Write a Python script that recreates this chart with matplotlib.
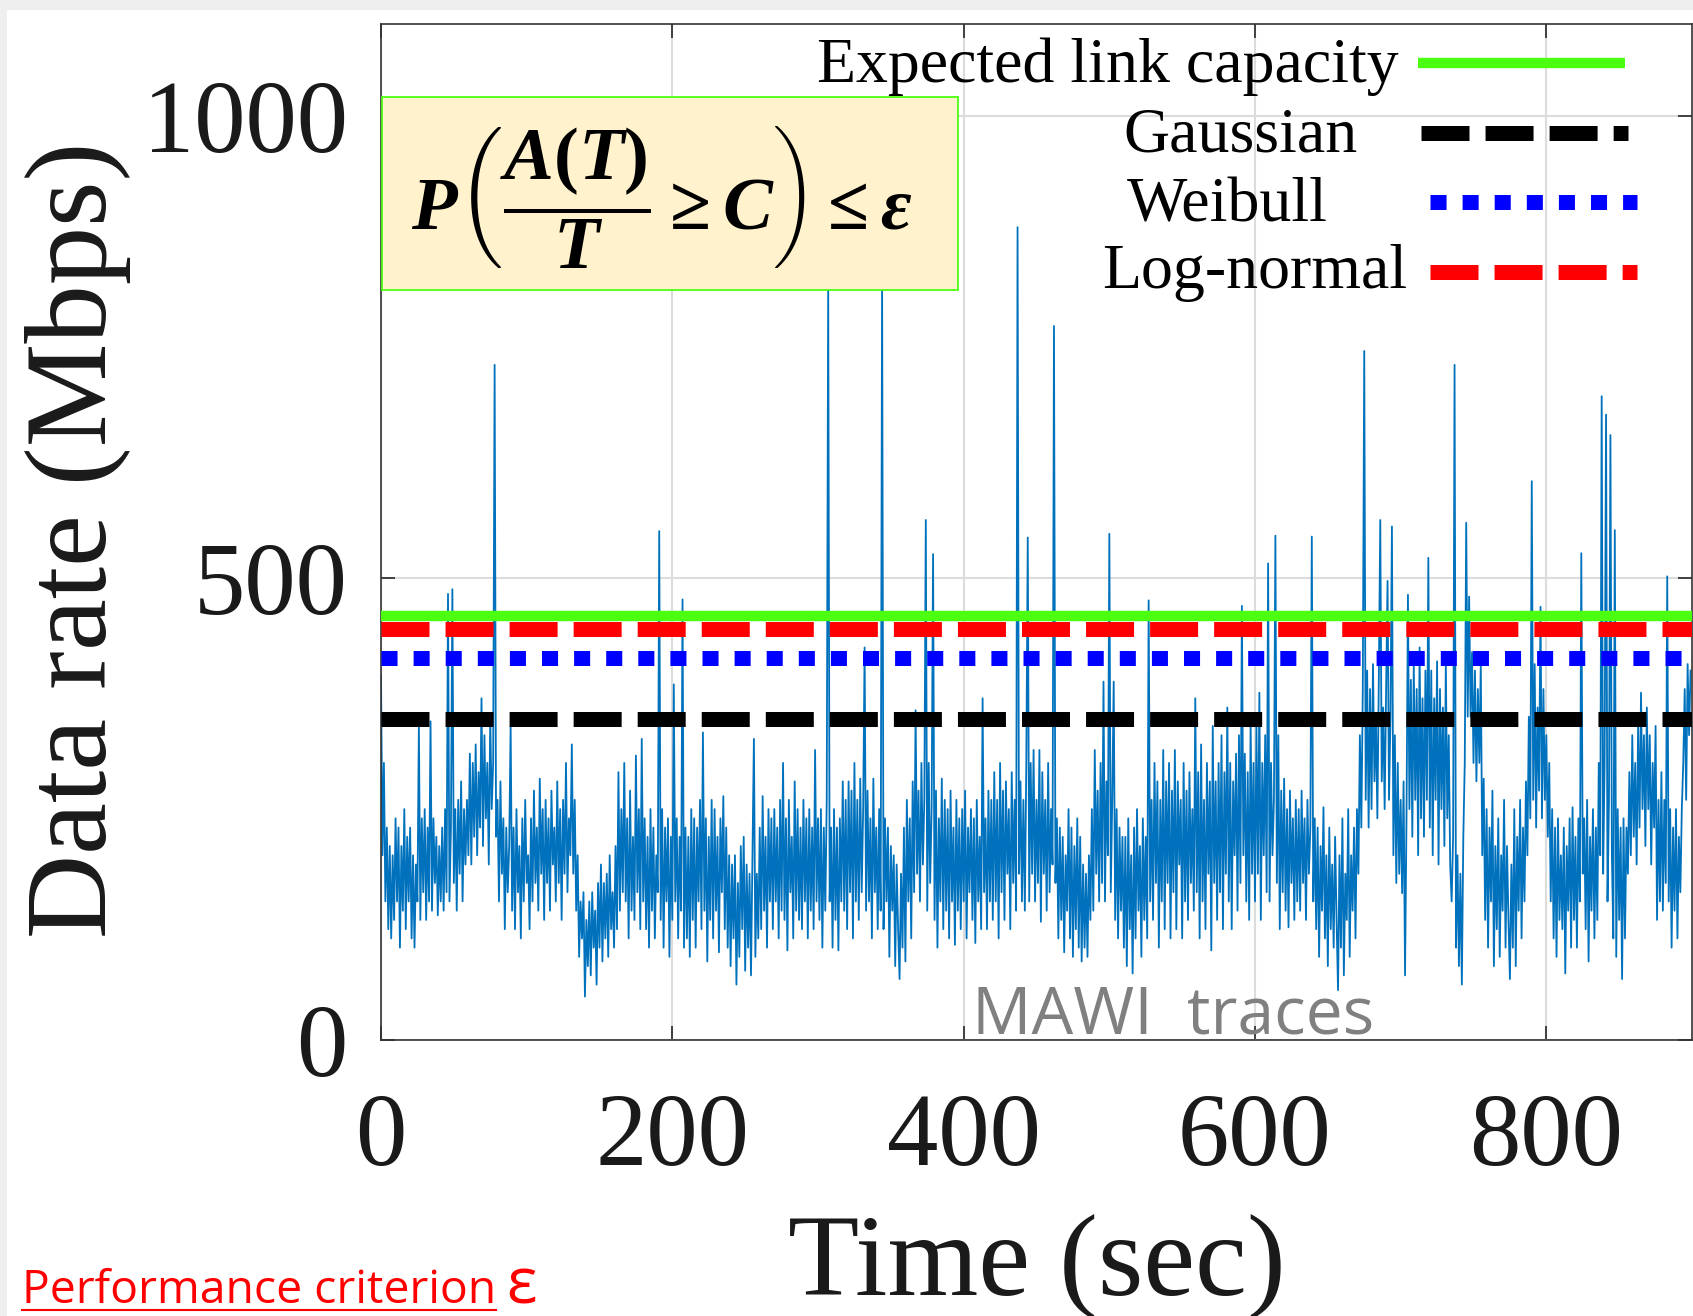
import numpy as np
import matplotlib
matplotlib.use('Agg')
import matplotlib.pyplot as plt
from matplotlib.patches import Rectangle
from matplotlib.lines import Line2D

# ---------------- data ----------------
# one value per second, t = 0 ... 899 (each row = 30 s)
data_rate_mbps = [
    395, 200, 300, 150, 230, 120, 210, 110, 200, 130, 240, 150, 230, 100, 210, 140, 250, 120, 220, 150, 230, 110, 200, 100, 190, 150, 340, 130, 240, 160,
    250, 130, 230, 150, 345, 140, 240, 170, 220, 135, 210, 150, 230, 140, 250, 160, 483, 150, 230, 488, 170, 250, 140, 260, 180, 280, 150, 250, 190, 260,
    200, 310, 190, 300, 220, 320, 200, 290, 230, 370, 210, 330, 240, 300, 190, 350, 250, 300, 731, 220, 260, 150, 280, 180, 240, 120, 230, 160, 210, 340,
    140, 230, 120, 250, 160, 210, 110, 240, 150, 260, 170, 200, 120, 240, 150, 270, 170, 230, 140, 283, 180, 250, 130, 260, 170, 240, 140, 270, 190, 230,
    150, 280, 170, 250, 130, 260, 180, 300, 160, 240, 200, 320, 180, 260, 140, 200, 90, 150, 110, 160, 47, 130, 80, 150, 70, 160, 100, 140, 60, 170,
    100, 190, 85, 170, 110, 180, 90, 200, 120, 160, 100, 210, 120, 290, 140, 250, 160, 300, 150, 240, 110, 270, 140, 220, 130, 308, 160, 250, 120, 326,
    150, 240, 120, 220, 100, 250, 140, 230, 110, 200, 160, 551, 130, 250, 100, 230, 150, 240, 90, 220, 130, 385, 150, 240, 110, 220, 140, 477, 100, 230,
    110, 220, 90, 250, 130, 240, 100, 230, 150, 260, 120, 333, 140, 240, 85, 220, 130, 260, 110, 250, 140, 220, 95, 240, 160, 264, 120, 230, 100, 200,
    80, 190, 110, 200, 60, 170, 90, 210, 120, 220, 75, 190, 100, 180, 70, 200, 326, 90, 180, 110, 230, 120, 264, 140, 220, 100, 250, 150, 240, 120,
    250, 150, 230, 110, 260, 140, 300, 130, 240, 97, 260, 160, 220, 110, 280, 140, 250, 130, 230, 120, 260, 150, 240, 110, 250, 140, 230, 120, 314, 150,
    240, 130, 250, 100, 230, 140, 260, 820, 150, 230, 100, 250, 130, 230, 97, 240, 150, 280, 140, 260, 120, 280, 160, 270, 110, 300, 150, 260, 130, 283,
    160, 250, 425, 140, 270, 150, 240, 110, 283, 160, 230, 120, 250, 140, 825, 120, 240, 150, 230, 90, 210, 140, 200, 80, 190, 120, 66, 180, 100, 230,
    85, 260, 150, 240, 110, 280, 160, 357, 180, 270, 150, 300, 190, 260, 563, 140, 300, 170, 250, 526, 130, 270, 100, 240, 150, 283, 120, 260, 140, 250,
    110, 270, 150, 230, 103, 260, 140, 240, 120, 250, 150, 270, 110, 230, 160, 250, 130, 240, 105, 260, 150, 220, 120, 370, 160, 240, 120, 270, 150, 260,
    130, 290, 150, 260, 110, 300, 160, 270, 130, 280, 180, 250, 120, 290, 170, 260, 140, 880, 180, 280, 150, 260, 140, 300, 544, 150, 300, 180, 314, 150,
    260, 170, 314, 128, 290, 180, 260, 140, 300, 160, 250, 190, 773, 170, 240, 110, 230, 130, 220, 95, 200, 140, 250, 110, 230, 90, 210, 120, 240, 100,
    220, 85, 190, 100, 180, 90, 200, 130, 250, 140, 314, 180, 270, 150, 300, 170, 388, 150, 280, 200, 548, 160, 260, 388, 130, 250, 110, 230, 140, 220,
    100, 220, 80, 240, 120, 200, 72, 230, 110, 250, 140, 210, 90, 240, 130, 220, 110, 476, 150, 260, 130, 300, 170, 280, 100, 260, 150, 314, 120, 280,
    170, 300, 110, 270, 160, 314, 120, 280, 190, 260, 110, 300, 150, 270, 130, 290, 170, 250, 140, 370, 160, 290, 110, 320, 150, 260, 120, 300, 180, 280,
    97, 340, 170, 280, 130, 300, 160, 330, 120, 290, 180, 360, 150, 300, 120, 280, 200, 310, 140, 330, 170, 470, 200, 310, 150, 290, 130, 345, 180, 300,
    150, 340, 180, 376, 130, 300, 200, 330, 160, 516, 150, 300, 200, 260, 546, 170, 330, 120, 270, 160, 283, 140, 250, 122, 270, 170, 240, 130, 260, 150,
    250, 140, 270, 170, 240, 130, 260, 180, 230, 545, 150, 240, 120, 230, 90, 210, 140, 252, 110, 200, 80, 230, 120, 190, 100, 220, 130, 54, 200, 100,
    240, 70, 180, 130, 250, 90, 200, 140, 230, 110, 250, 180, 330, 230, 380, 746, 260, 400, 230, 380, 250, 407, 280, 350, 240, 390, 563, 280, 360, 250,
    380, 497, 260, 350, 556, 200, 330, 170, 300, 180, 260, 159, 280, 70, 240, 482, 250, 390, 220, 407, 260, 380, 200, 425, 240, 370, 220, 400, 260, 522,
    230, 400, 200, 370, 260, 410, 190, 380, 250, 360, 210, 410, 240, 330, 190, 150, 220, 731, 100, 200, 80, 180, 60, 220, 300, 560, 350, 480, 350, 420,
    300, 400, 280, 380, 300, 407, 200, 283, 130, 250, 100, 230, 150, 270, 80, 210, 120, 240, 90, 200, 140, 260, 100, 210, 130, 66, 190, 100, 250, 80,
    220, 140, 260, 110, 230, 150, 280, 200, 350, 240, 605, 260, 407, 230, 360, 270, 469, 240, 380, 260, 330, 220, 300, 150, 250, 110, 230, 90, 240, 130,
    200, 120, 230, 72, 210, 140, 240, 100, 252, 130, 220, 100, 240, 150, 527, 180, 240, 120, 260, 85, 220, 140, 250, 110, 230, 130, 300, 200, 697, 180,
    300, 677, 150, 260, 655, 200, 110, 552, 90, 250, 130, 230, 66, 240, 110, 230, 180, 290, 200, 330, 220, 300, 190, 340, 230, 376, 250, 330, 210, 360,
    250, 330, 190, 300, 230, 340, 130, 260, 150, 290, 140, 260, 170, 502, 150, 250, 100, 230, 140, 250, 110, 220, 160, 250, 300, 380, 260, 407, 330, 400,
]
time_sec = np.arange(len(data_rate_mbps))  # one sample per second

capacity_labels = ['Expected link capacity', 'Gaussian', 'Weibull', 'Log-normal']
capacity_values = [459, 347, 414, 445]

x_ticks = [0, 200, 400, 600, 800]
y_ticks = [0, 500, 1000]

formula_text = r'$P\left(\dfrac{A(T)}{T} \geq C\right) \leq \varepsilon$'
trace_label = 'MAWI  traces'
criterion_text = 'Performance criterion'
criterion_symbol = 'ε'

# ---------------- style ----------------
W, H = 1693, 1316
DPI = 100
SERIF = ['Liberation Serif', 'DejaVu Serif']
plt.rcParams['font.family'] = SERIF
plt.rcParams['mathtext.fontset'] = 'custom'
plt.rcParams['mathtext.rm'] = 'Liberation Serif:bold'
plt.rcParams['mathtext.it'] = 'Liberation Serif:bold:italic'
plt.rcParams['mathtext.bf'] = 'Liberation Serif:bold'

GREEN = '#4cff10'
trace_color = '#0072BD'
styles = {
    'Expected link capacity': dict(color=GREEN, lw=7.5, dashes=None),
    'Gaussian': dict(color='black', lw=10.8, dashes=(3.2, 1.07)),
    'Weibull': dict(color='#0000ff', lw=10.8, dashes=(1.07, 1.07)),
    'Log-normal': dict(color='#ff0000', lw=10.8, dashes=(3.2, 1.07)),
}

fig = plt.figure(figsize=(W / DPI, H / DPI), dpi=DPI)
fig.patch.set_facecolor('white')

# light-grey slide frame
fig.patches.append(Rectangle((0, 1 - 10 / H), 1, 10 / H, transform=fig.transFigure,
                             facecolor='#efefef', edgecolor='none', zorder=0))
fig.patches.append(Rectangle((0, 0), 7 / W, 1, transform=fig.transFigure,
                             facecolor='#efefef', edgecolor='none', zorder=0))

ax_left, ax_right, ax_top, ax_bottom = 381, 1692, 24, 1040
ax = fig.add_axes([ax_left / W, 1 - ax_bottom / H, (ax_right - ax_left) / W, (ax_bottom - ax_top) / H])

def fx(px):  # figure pixel x -> axes fraction
    return (px - ax_left) / (ax_right - ax_left)

def fy(py):  # figure pixel y (from top) -> axes fraction
    return (ax_bottom - py) / (ax_bottom - ax_top)

ax.plot(time_sec, data_rate_mbps, color=trace_color, lw=1.3, zorder=2)

for lab, val in zip(capacity_labels, capacity_values):
    st = styles[lab]
    ln = ax.axhline(val, color=st['color'], lw=st['lw'], zorder=4, solid_capstyle='butt',
                    dash_capstyle='butt')
    if st['dashes'] is not None:
        ln.set_dashes(st['dashes'])

ax.set_xlim(0, 900)
ax.set_ylim(0, 1100)
ax.set_xticks(x_ticks)
ax.set_yticks(y_ticks)
ax.grid(True, color='#dcdcdc', lw=1.5, zorder=0)
ax.set_axisbelow(True)
for sp in ax.spines.values():
    sp.set_color('#333333')
    sp.set_linewidth(1.2)
ax.tick_params(direction='in', length=10, width=1.2, top=True, right=True, colors='#262626')
ax.tick_params(axis='x', labelsize=74, pad=38, labelcolor='#1a1a1a')
ax.tick_params(axis='y', labelsize=74, pad=24, labelcolor='#1a1a1a')

xl = ax.set_xlabel('Time (sec)', fontsize=84, color='#1a1a1a')
xl.set_va('baseline')
ax.xaxis.set_label_coords(0.5, fy(1294))
yl = ax.set_ylabel('Data rate (Mbps)', fontsize=84, color='#1a1a1a')
yl.set_va('baseline')
ax.yaxis.set_label_coords(fx(106), fy(540))

# legend drawn by hand to match the reference placement
legend_rows = [
    # label, text left px, baseline px, line x0 px, line x1 px, line y px
    ('Expected link capacity', 817, 82, 1418, 1625, 62.5),
    ('Gaussian', 1123, 152, 1421, 1628, 133),
    ('Weibull', 1127, 222, 1430, 1637, 202),
    ('Log-normal', 1102, 288, 1430, 1637, 272),
]
for lab, tx, ty, lx0, lx1, ly in legend_rows:
    ax.text(fx(tx), fy(ty), lab, transform=ax.transAxes, fontsize=46, ha='left', va='baseline',
            color='black', zorder=6, clip_on=False)
    st = styles[lab]
    l = Line2D([fx(lx0), fx(lx1)], [fy(ly), fy(ly)], transform=ax.transAxes, color=st['color'],
               lw=st['lw'], solid_capstyle='butt', dash_capstyle='butt', zorder=6, clip_on=False)
    if st['dashes'] is not None:
        l.set_dashes(st['dashes'])
    ax.add_line(l)

# formula box
box = Rectangle((fx(382), fy(290)), fx(958) - fx(382), fy(97) - fy(290), transform=ax.transAxes,
                facecolor='#fff2cc', edgecolor=GREEN, lw=1.3, zorder=7, clip_on=False)
ax.add_patch(box)
ftxt = ax.text(fx(661.5), fy(197.5), formula_text, transform=ax.transAxes, fontsize=40,
               ha='center', va='center', zorder=8, color='black')

ax.text(fx(972), fy(1033), trace_label, transform=ax.transAxes, fontsize=47.5, color='#808080',
        family=['Open Sans', 'DejaVu Sans'], ha='left', va='baseline', zorder=5)

ct = fig.text(22 / W, 1 - 1303 / H, criterion_text, fontsize=33.3, color='#ff0000',
              family=['Open Sans', 'DejaVu Sans'], ha='left', va='baseline')
cs = fig.text(506 / W, 1 - 1303 / H, criterion_symbol, fontsize=46, color='#ff0000',
              family=['Open Sans', 'DejaVu Sans'], ha='left', va='baseline')

# fit formula width to the reference and add underline
fig.canvas.draw()
r = fig.canvas.get_renderer()
wf = ftxt.get_window_extent(r).width
ftxt.set_fontsize(40 * 499 / wf)
bb = ct.get_window_extent(r)
fig.add_artist(Line2D([bb.x0 / W, bb.x1 / W], [1 - 1310 / H, 1 - 1310 / H], transform=fig.transFigure,
                      color='#ff0000', lw=1.5))

fig.savefig('out.png', dpi=DPI)
